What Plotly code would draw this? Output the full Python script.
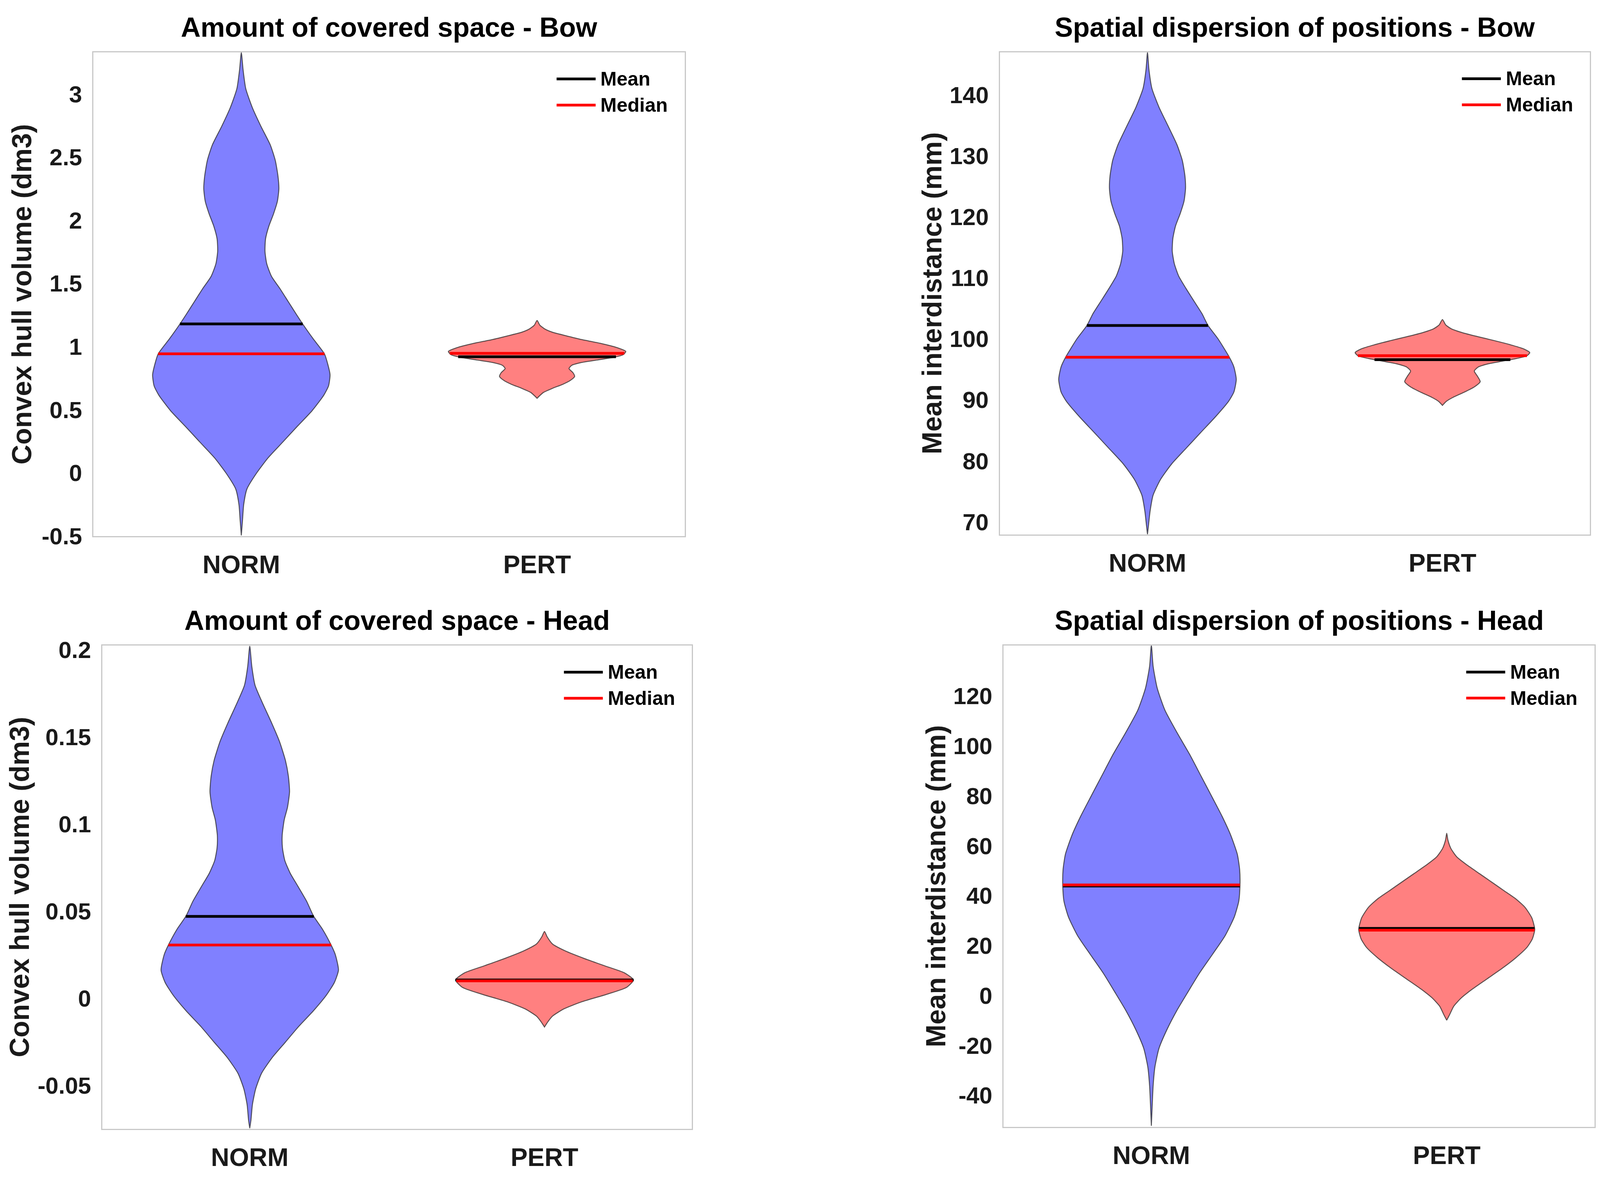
import numpy as np
import plotly.graph_objects as go

# ---------------------------------------------------------------
# values
# violins are stored as (y level, half width) pairs, top to bottom
# ---------------------------------------------------------------
CATEGORIES = ["NORM", "PERT"]
POSITIONS = [1, 2]

# Amount of covered space - Bow
bow_vol_norm_y = [3.328, 3.191, 3.043, 2.894, 2.746, 2.597, 2.473, 2.349, 2.250, 2.151,
                  2.052, 1.953, 1.854, 1.755, 1.656, 1.557, 1.458, 1.359, 1.260, 1.178,
                  1.062, 0.943, 0.864, 0.777, 0.690, 0.616, 0.492, 0.368, 0.244, 0.121,
                  -0.003, -0.127, -0.251, -0.375, -0.494]
bow_vol_norm_w = [0.0, 0.006, 0.015, 0.037, 0.066, 0.098, 0.115, 0.124, 0.127, 0.122,
                  0.109, 0.093, 0.082, 0.080, 0.086, 0.102, 0.131, 0.158, 0.185, 0.208,
                  0.243, 0.281, 0.292, 0.300, 0.295, 0.279, 0.239, 0.189, 0.140, 0.091,
                  0.051, 0.019, 0.008, 0.004, 0.0]
bow_vol_pert_y = [1.208, 1.171, 1.140, 1.114, 1.088, 1.056, 1.025, 0.994, 0.962, 0.936,
                  0.915, 0.894, 0.873, 0.852, 0.826, 0.795, 0.764, 0.732, 0.701, 0.670,
                  0.638, 0.612, 0.591]
bow_vol_pert_w = [0.0, 0.009, 0.026, 0.052, 0.095, 0.151, 0.216, 0.268, 0.300, 0.291,
                  0.259, 0.203, 0.147, 0.117, 0.108, 0.121, 0.127, 0.112, 0.086, 0.052,
                  0.022, 0.009, 0.0]
bow_vol_mean = [1.18, 0.920]
bow_vol_median = [0.943, 0.947]

# Spatial dispersion of positions - Bow
bow_disp_norm_y = [146.97, 144.15, 141.07, 138.0, 134.9, 131.84, 129.27, 126.71, 124.65, 122.60,
                   120.55, 118.50, 116.45, 114.39, 112.34, 110.29, 108.24, 106.18, 104.13, 102.23,
                   100.03, 97.05, 95.41, 93.36, 91.30, 89.77, 87.20, 84.63, 82.07, 79.50,
                   76.94, 74.37, 71.81, 69.24, 67.96]
bow_disp_norm_w = [0.0, 0.005, 0.015, 0.039, 0.070, 0.100, 0.118, 0.127, 0.129, 0.124,
                   0.111, 0.095, 0.086, 0.084, 0.091, 0.106, 0.131, 0.158, 0.185, 0.205,
                   0.239, 0.277, 0.293, 0.301, 0.293, 0.275, 0.230, 0.180, 0.131, 0.082,
                   0.044, 0.019, 0.009, 0.003, 0.0]
bow_disp_pert_y = [103.17, 102.31, 101.66, 101.0, 100.36, 99.71, 99.06, 98.41, 97.76, 97.22,
                   96.79, 96.35, 95.92, 95.38, 94.73, 93.87, 93.0, 92.13, 91.27, 90.40,
                   89.76, 89.1]
bow_disp_pert_w = [0.0, 0.011, 0.030, 0.069, 0.121, 0.177, 0.229, 0.273, 0.296, 0.286,
                   0.251, 0.203, 0.156, 0.121, 0.108, 0.119, 0.128, 0.108, 0.074, 0.035,
                   0.013, 0.0]
bow_disp_mean = [102.2, 96.6]
bow_disp_median = [97.0, 97.25]

# Amount of covered space - Head
head_vol_norm_y = [0.2022, 0.1905, 0.1797, 0.1689, 0.1582, 0.1474, 0.1366, 0.1276, 0.1186, 0.1096,
                   0.1025, 0.0935, 0.0863, 0.0791, 0.0719, 0.0647, 0.0557, 0.0473, 0.0396, 0.0306,
                   0.0252, 0.0162, 0.0090, 0.0018, -0.0072, -0.0162, -0.0252, -0.0341, -0.0431,
                   -0.0521, -0.0611, -0.0701, -0.0746]
head_vol_norm_w = [0.0, 0.007, 0.018, 0.045, 0.074, 0.101, 0.121, 0.131, 0.135, 0.128,
                   0.117, 0.110, 0.111, 0.119, 0.137, 0.162, 0.193, 0.216, 0.247, 0.276,
                   0.290, 0.301, 0.287, 0.260, 0.216, 0.166, 0.121, 0.076, 0.040,
                   0.020, 0.009, 0.004, 0.0]
head_vol_pert_y = [0.0384, 0.0353, 0.0312, 0.0270, 0.0229, 0.0187, 0.0146, 0.0105, 0.0063,
                   0.0022, -0.0020, -0.0061, -0.0103, -0.0134, -0.0165]
head_vol_pert_w = [0.0, 0.009, 0.027, 0.073, 0.134, 0.203, 0.271, 0.302, 0.279,
                   0.210, 0.127, 0.066, 0.027, 0.012, 0.0]
head_vol_mean = [0.0470, 0.0105]
head_vol_median = [0.0306, 0.0100]

# Spatial dispersion of positions - Head
head_disp_norm_y = [140.42, 131.89, 123.11, 114.33, 105.55, 96.77, 87.99, 79.22, 71.69, 64.17,
                    56.64, 50.37, 44.10, 37.83, 31.56, 24.04, 16.51, 8.99, 1.46, -6.06,
                    -13.59, -21.11, -28.64, -36.16, -43.69, -52.2]
head_disp_norm_w = [0.0, 0.006, 0.020, 0.046, 0.086, 0.129, 0.168, 0.207, 0.240, 0.269,
                    0.291, 0.299, 0.300, 0.296, 0.281, 0.250, 0.207, 0.163, 0.124, 0.086,
                    0.053, 0.026, 0.012, 0.006, 0.003, 0.0]
head_disp_pert_y = [65.02, 62.33, 58.95, 55.58, 52.21, 48.84, 45.47, 42.10, 38.73, 35.36,
                    31.15, 26.51, 22.72, 19.35, 15.13, 10.92, 6.71, 2.50, -0.88, -4.25,
                    -7.62, -9.89]
head_disp_pert_w = [0.0, 0.004, 0.014, 0.034, 0.070, 0.111, 0.152, 0.193, 0.234, 0.265,
                    0.288, 0.298, 0.290, 0.272, 0.234, 0.188, 0.137, 0.086, 0.050, 0.024,
                    0.010, 0.0]
head_disp_mean = [43.9, 26.9]
head_disp_median = [44.3, 26.2]

# tick labels
vol_bow_ticks = [-0.5, 0, 0.5, 1, 1.5, 2, 2.5, 3]
vol_bow_labels = ["-0.5", "0", "0.5", "1", "1.5", "2", "2.5", "3"]
disp_bow_ticks = [70, 80, 90, 100, 110, 120, 130, 140]
disp_bow_labels = ["70", "80", "90", "100", "110", "120", "130", "140"]
vol_head_ticks = [-0.05, 0, 0.05, 0.1, 0.15, 0.2]
vol_head_labels = ["-0.05", "0", "0.05", "0.1", "0.15", "0.2"]
disp_head_ticks = [-40, -20, 0, 20, 40, 60, 80, 100, 120]
disp_head_labels = ["-40", "-20", "0", "20", "40", "60", "80", "100", "120"]

# ---------------------------------------------------------------
# styling
# ---------------------------------------------------------------
FONT = "Liberation Sans, Arial, Helvetica, sans-serif"
BLUE = "rgb(128,128,255)"
RED = "rgb(255,128,128)"
EDGE = "rgba(40,40,40,0.75)"
BOX = "#c8c8c8"
TXT = "#1a1a1a"

panels = [
    dict(title="Amount of covered space - Bow", ylabel="Convex hull volume (dm3)",
         violins=[(bow_vol_norm_y, bow_vol_norm_w), (bow_vol_pert_y, bow_vol_pert_w)],
         mean=bow_vol_mean, median=bow_vol_median,
         ticks=vol_bow_ticks, labels=vol_bow_labels, yrange=[-0.5, 3.33],
         xdom=[0.0584, 0.4281], ydom=[0.5453, 0.9623], ylabel_x=0.0136),
    dict(title="Spatial dispersion of positions - Bow", ylabel="Mean interdistance (mm)",
         violins=[(bow_disp_norm_y, bow_disp_norm_w), (bow_disp_pert_y, bow_disp_pert_w)],
         mean=bow_disp_mean, median=bow_disp_median,
         ticks=disp_bow_ticks, labels=disp_bow_labels, yrange=[67.96, 147.0],
         xdom=[0.6250, 0.9937], ydom=[0.5468, 0.9624], ylabel_x=0.5823),
    dict(title="Amount of covered space - Head", ylabel="Convex hull volume (dm3)",
         violins=[(head_vol_norm_y, head_vol_norm_w), (head_vol_pert_y, head_vol_pert_w)],
         mean=head_vol_mean, median=head_vol_median,
         ticks=vol_head_ticks, labels=vol_head_labels, yrange=[-0.0749, 0.2025],
         xdom=[0.0640, 0.4324], ydom=[0.0345, 0.4509], ylabel_x=0.0123),
    dict(title="Spatial dispersion of positions - Head", ylabel="Mean interdistance (mm)",
         violins=[(head_disp_norm_y, head_disp_norm_w), (head_disp_pert_y, head_disp_pert_w)],
         mean=head_disp_mean, median=head_disp_median,
         ticks=disp_head_ticks, labels=disp_head_labels, yrange=[-52.6, 140.2],
         xdom=[0.6273, 0.9965], ydom=[0.0361, 0.4509], ylabel_x=0.5850),
]
fills = [BLUE, RED]

fig = go.Figure()
layout = {}
shapes = []
annotations = []

for i, p in enumerate(panels, start=1):
    sfx = "" if i == 1 else str(i)
    xa, ya = "x" + sfx, "y" + sfx

    # violin bodies
    for k, (ys, ws) in enumerate(p["violins"]):
        c = POSITIONS[k]
        ys = np.asarray(ys)
        ws = np.asarray(ws)
        fig.add_trace(go.Scatter(
            x=np.concatenate([c + ws, (c - ws)[::-1]]),
            y=np.concatenate([ys, ys[::-1]]),
            xaxis=xa, yaxis=ya, mode="lines",
            line=dict(color=EDGE, width=2.5, shape="spline", smoothing=0.6),
            fill="toself", fillcolor=fills[k],
            hoverinfo="skip", showlegend=False,
        ))

    # mean (black) then median (red), spanning the violin width at that level
    for stat, col in (("mean", "black"), ("median", "red")):
        for k, (ys, ws) in enumerate(p["violins"]):
            c = POSITIONS[k]
            v = p[stat][k]
            hw = np.interp(v, np.asarray(ys)[::-1], np.asarray(ws)[::-1])
            fig.add_trace(go.Scatter(
                x=[c - hw, c + hw], y=[v, v], xaxis=xa, yaxis=ya, mode="lines",
                line=dict(color=col, width=7), hoverinfo="skip", showlegend=False,
            ))

    layout["xaxis" + sfx] = dict(
        domain=p["xdom"], anchor=ya, range=[0.5, 2.5],
        tickvals=POSITIONS, ticktext=CATEGORIES, ticks="",
        tickfont=dict(family=FONT, size=65, color=TXT, weight="bold"),
        ticklabelstandoff=14,
        showline=True, mirror=True, linecolor=BOX, linewidth=3,
        showgrid=False, zeroline=False, fixedrange=True,
    )
    layout["yaxis" + sfx] = dict(
        domain=p["ydom"], anchor=xa, range=p["yrange"],
        tickvals=p["ticks"], ticktext=p["labels"], ticks="",
        tickfont=dict(family=FONT, size=60, color=TXT, weight="bold"),
        ticklabelstandoff=14,
        showline=True, mirror=True, linecolor=BOX, linewidth=3,
        showgrid=False, zeroline=False, fixedrange=True,
    )

    # y axis label
    annotations.append(dict(
        text=p["ylabel"], xref="paper", yref=ya + " domain", x=p["ylabel_x"], y=0.5,
        xanchor="center", yanchor="middle", textangle=-90, showarrow=False,
        font=dict(family=FONT, size=70, color=TXT, weight="bold"),
    ))

    # panel title
    annotations.append(dict(
        text=p["title"], xref=xa + " domain", yref=ya + " domain", x=0.5, y=1.0,
        xanchor="center", yanchor="middle", yshift=64, showarrow=False,
        font=dict(family=FONT, size=70, color="black", weight="bold"),
    ))

    # legend: Mean / Median
    for row, (name, col) in enumerate((("Mean", "black"), ("Median", "red"))):
        yy = 0.945 - row * 0.054
        shapes.append(dict(type="line", xref=xa + " domain", yref=ya + " domain",
                           x0=0.783, x1=0.849, y0=yy, y1=yy,
                           line=dict(color=col, width=7)))
        annotations.append(dict(
            text=name, xref=xa + " domain", yref=ya + " domain", x=0.856, y=yy,
            xanchor="left", yanchor="middle", showarrow=False,
            font=dict(family=FONT, size=50, color="black", weight="bold"),
        ))

fig.update_layout(
    autosize=True,
    margin=dict(l=0, r=0, t=0, b=0),
    paper_bgcolor="white", plot_bgcolor="white",
    showlegend=False,
    shapes=shapes, annotations=annotations,
    **layout,
)

# fill the browser window exactly (no page margin, no scroll bars)
fit_page = """
document.documentElement.style.margin='0';
document.body.style.margin='0';
document.body.style.overflow='hidden';
Plotly.Plots.resize(document.getElementById('{plot_id}'));
"""

fig.write_html("out.html", default_width="100vw", default_height="100vh",
               config={"responsive": True, "displayModeBar": False},
               post_script=fit_page)
